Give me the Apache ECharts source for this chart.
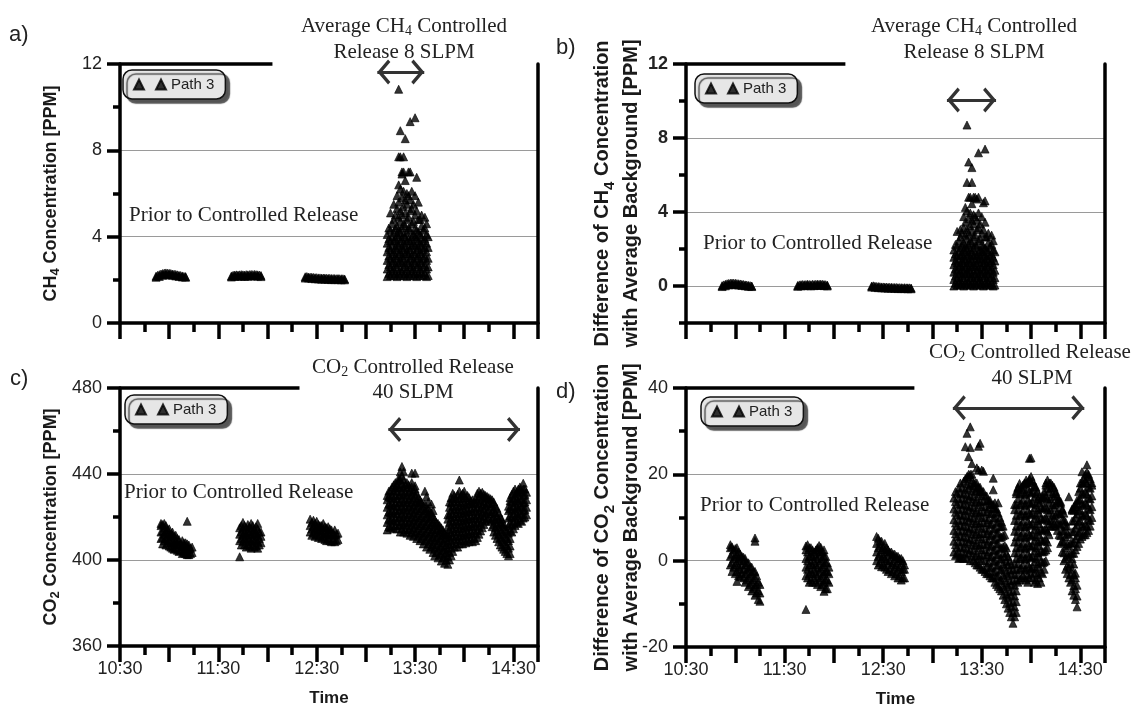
<!DOCTYPE html>
<html>
<head>
<meta charset="utf-8">
<title>Path 3 - CH4 / CO2 controlled release</title>
<script src="https://cdn.jsdelivr.net/npm/echarts/dist/echarts.min.js"></script>
<style>
  html, body { margin: 0; padding: 0; background: #fff; }
  #chart { width: 1142px; height: 709px; }
</style>
</head>
<body>
<div id="chart"></div>
<script>
// time axis, minutes since midnight (10:30 .. 14:45)
const timeMin = 630, timeMax = 885;
const timeTicks = [630, 690, 750, 810, 870];
const timeTickLabels = ['10:30', '11:30', '12:30', '13:30', '14:30'];

// y tick labels of each panel
const ch4Ticks = [0, 4, 8, 12];
const ch4DiffTicks = [0, 4, 8, 12];
const co2Ticks = [360, 400, 440, 480];
const co2DiffTicks = [-20, 0, 20, 40];

// every column: [time, [values read at that minute]]
// a) CH4 concentration
const ch4Prior = [
  [652,[2.17,2.12]],[653,[2.21]],[654,[2.24,2.16]],[655,[2.27]],[656,[2.29,2.21]],[657,[2.31]],[658,[2.32,2.24]],
  [659,[2.31]],[660,[2.3,2.23]],[661,[2.29]],[662,[2.27,2.21]],[663,[2.26]],[664,[2.25,2.18]],[665,[2.23]],
  [666,[2.21,2.16]],[667,[2.2]],[668,[2.18,2.13]],[669,[2.16]],[670,[2.15,2.12]],
  [698,[2.18,2.13]],[699,[2.21]],[700,[2.22,2.16]],[701,[2.23]],[702,[2.22,2.17]],[703,[2.23]],[704,[2.24,2.17]],
  [705,[2.23]],[706,[2.22,2.16]],[707,[2.24]],[708,[2.23,2.17]],[709,[2.24]],[710,[2.25,2.18]],[711,[2.24]],
  [712,[2.25,2.18]],[713,[2.24]],[714,[2.23,2.17]],[715,[2.22]],[716,[2.2,2.15]],
  [743,[2.14,2.08]],[744,[2.15]],[745,[2.13,2.08]],[746,[2.12]],[747,[2.12,2.06]],[748,[2.11]],[749,[2.1,2.05]],
  [750,[2.1]],[751,[2.09,2.04]],[752,[2.09]],[753,[2.08,2.03]],[754,[2.08]],[755,[2.08,2.03]],[756,[2.07]],
  [757,[2.07,2.02]],[758,[2.07]],[759,[2.06,2.01]],[760,[2.06]],[761,[2.06,2.01]],[762,[2.05]],[763,[2.06,2.01]],
  [764,[2.05]],[765,[2.05,2.0]],[766,[2.05]],[767,[2.04,2.0]]
];
const ch4Release = [
  [793,[2.15,2.5,2.9,3.3,3.7,4.1]],
  [794,[2.3,2.7,3.1,3.5,3.9,4.4]],
  [795,[2.2,2.6,3.0,3.4,3.8,4.3,5.1]],
  [796,[2.4,2.8,3.2,3.6,4.0,4.6]],
  [797,[2.2,2.5,2.9,3.3,3.8,4.2,4.8,5.5]],
  [798,[2.3,2.7,3.1,3.5,3.9,4.4,5.0]],
  [799,[2.15,2.6,3.0,3.4,3.7,4.1,4.5,5.3,5.9]],
  [800,[2.3,2.8,3.2,3.6,4.0,4.3,4.9,5.6,6.4,7.7,10.83]],
  [801,[2.2,2.5,2.9,3.3,3.8,4.2,4.7,5.2,6.2,7.7,8.91]],
  [802,[2.4,2.8,3.1,3.5,3.9,4.4,5.0,5.8,6.9,7.0]],
  [803,[2.2,2.6,3.0,3.4,3.7,4.1,4.6,5.4,6.1,7.0,7.7]],
  [804,[2.3,2.7,3.2,3.6,4.0,4.5,5.1,5.7,6.6,8.54]],
  [805,[2.15,2.5,2.9,3.3,3.8,4.2,4.8,5.5,6.0]],
  [806,[2.3,2.8,3.2,3.5,3.9,4.4,4.9,5.9,7.0]],
  [807,[2.2,2.6,3.0,3.4,3.8,4.3,5.2,5.7,7.0,9.33]],
  [808,[2.4,2.7,3.1,3.6,4.0,4.6,5.3,6.1]],
  [809,[2.2,2.5,2.9,3.3,3.7,4.1,4.7,5.5]],
  [810,[2.3,2.8,3.2,3.6,4.0,4.4,5.0,5.9,9.51]],
  [811,[2.15,2.6,3.0,3.4,3.9,4.3,5.2,6.75]],
  [812,[2.3,2.7,3.1,3.5,3.8,4.2,4.8,5.6]],
  [813,[2.2,2.5,2.9,3.3,3.7,4.1,4.8]],
  [814,[2.35,2.8,3.2,3.6,4.0,4.5,5.0]],
  [815,[2.2,2.6,3.0,3.4,3.8,4.3]],
  [816,[2.3,2.7,3.1,3.5,3.9,4.4,4.9]],
  [817,[2.15,2.5,2.9,3.3,3.7,4.1,4.6]],
  [818,[2.2,2.6,3.0,3.5,4.0]]
];

// b) CH4 difference with average background
const ch4DiffPrior = [
  [652,[0.02,-0.03]],[653,[0.06]],[654,[0.09,0.01]],[655,[0.12]],[656,[0.14,0.06]],[657,[0.15]],[658,[0.16,0.08]],
  [659,[0.15]],[660,[0.15,0.07]],[661,[0.13]],[662,[0.12,0.05]],[663,[0.11]],[664,[0.09,0.03]],[665,[0.08]],
  [666,[0.06,0.01]],[667,[0.05]],[668,[0.03,-0.02]],[669,[0.02]],[670,[0.0,-0.03]],
  [698,[0.03,-0.02]],[699,[0.06]],[700,[0.07,0.01]],[701,[0.08]],[702,[0.07,0.02]],[703,[0.08]],[704,[0.09,0.02]],
  [705,[0.08]],[706,[0.07,0.01]],[707,[0.09]],[708,[0.08,0.02]],[709,[0.09]],[710,[0.1,0.03]],[711,[0.09]],
  [712,[0.1,0.03]],[713,[0.09]],[714,[0.08,0.02]],[715,[0.07]],[716,[0.05,0.0]],
  [743,[0.0,-0.06]],[744,[0.01]],[745,[-0.01,-0.07]],[746,[-0.03]],[747,[-0.03,-0.09]],[748,[-0.04]],[749,[-0.05,-0.1]],
  [750,[-0.05]],[751,[-0.06,-0.11]],[752,[-0.06]],[753,[-0.07,-0.12]],[754,[-0.07]],[755,[-0.07,-0.12]],[756,[-0.08]],
  [757,[-0.08,-0.13]],[758,[-0.08]],[759,[-0.09,-0.14]],[760,[-0.09]],[761,[-0.09,-0.14]],[762,[-0.1]],
  [763,[-0.09,-0.14]],[764,[-0.1]],[765,[-0.1,-0.15]],[766,[-0.1]],[767,[-0.11,-0.15]]
];
const ch4DiffRelease = [
  [793,[0.0,0.35,0.75,1.15,1.55,1.95]],
  [794,[0.15,0.55,0.95,1.35,1.75,2.25]],
  [795,[0.05,0.45,0.85,1.25,1.65,2.15,2.95]],
  [796,[0.25,0.65,1.05,1.45,1.85,2.45]],
  [797,[0.05,0.35,0.75,1.15,1.65,2.05,2.65,3.05]],
  [798,[0.15,0.55,0.95,1.35,1.75,2.25,2.85]],
  [799,[0.0,0.45,0.85,1.25,1.55,1.95,2.35,3.15,3.75]],
  [800,[0.15,0.65,1.05,1.45,1.85,2.15,2.75,3.45,4.25]],
  [801,[0.05,0.35,0.75,1.15,1.65,2.05,2.55,3.05,4.05,5.6,8.7]],
  [802,[0.25,0.65,0.95,1.35,1.75,2.25,2.85,3.65,4.8,6.7]],
  [803,[0.05,0.45,0.85,1.25,1.55,1.95,2.45,3.25,3.95,4.8]],
  [804,[0.15,0.55,1.05,1.45,1.85,2.35,2.95,3.55,4.45,5.6,6.4]],
  [805,[0.0,0.35,0.75,1.15,1.65,2.05,2.65,3.35,3.85,4.8]],
  [806,[0.15,0.65,1.05,1.35,1.75,2.25,2.75,3.75,4.8]],
  [807,[0.05,0.45,0.85,1.25,1.65,2.15,3.05,3.55,4.7]],
  [808,[0.25,0.55,0.95,1.45,1.85,2.45,3.15,3.95,4.8,7.2]],
  [809,[0.05,0.35,0.75,1.15,1.55,1.95,2.55,3.35]],
  [810,[0.15,0.65,1.05,1.45,1.85,2.25,2.85,3.75]],
  [811,[0.0,0.45,0.85,1.25,1.75,2.15,3.05,4.5]],
  [812,[0.15,0.55,0.95,1.35,1.65,2.05,2.65,3.45,4.6,7.4]],
  [813,[0.05,0.35,0.75,1.15,1.55,1.95,2.65]],
  [814,[0.2,0.65,1.05,1.45,1.85,2.35,2.85]],
  [815,[0.05,0.45,0.85,1.25,1.65,2.15]],
  [816,[0.15,0.55,0.95,1.35,1.75,2.25,2.75]],
  [817,[0.0,0.35,0.75,1.15,1.55,1.95,2.45]],
  [818,[0.05,0.45,0.85,1.35,1.85]]
];

// c) CO2 concentration
const co2Prior = [
  [655,[410,413,416,417]],[656,[407.5,410.5,413.5,416.5]],[657,[409,412,415,417]],[658,[407,410,413,416]],
  [659,[408,411,414]],[660,[406.5,409.5,412.5,414.5]],[661,[406,409,412]],[662,[405.5,408.5,411.5,413]],
  [663,[405,408,411]],[664,[405.5,408.5,411.5]],[665,[404.5,407.5,410]],[666,[404,407,409.5]],[667,[404.5,407.5]],
  [668,[403,406,409]],[669,[403.5,406.5,408]],[670,[403,405.5,408]],[671,[402.5,405,407.5,418]],
  [672,[402.5,405,407]],[673,[403,405.5]],[674,[403.5,406]],
  [703,[401.5,409,412,415]],[704,[407,410,413,416]],[705,[408.5,411.5,414.5,417.5]],[706,[407,410,413,416]],
  [707,[406,409,412,415]],[708,[407.5,410.5,413.5,416.5]],[709,[406.5,409.5,412.5,415.5]],
  [710,[405.5,408.5,411.5,414.5,417]],[711,[407,410,413,416]],[712,[406,409,412,414]],
  [713,[406.5,409.5,412.5,415.5]],[714,[405.5,408.5,411.5,414.5,417]],[715,[407,410,413]],[716,[408,411,413]],
  [746,[413,416,419]],[747,[411.5,414.5,417.5]],[748,[412.5,415.5,418.5]],[749,[411,414,417]],[750,[412,415,418]],
  [751,[410.5,413.5,416.5]],[752,[411.5,414.5,416]],[753,[410,413,416]],[754,[411,414,417]],
  [755,[409.5,412.5,415.5]],[756,[409,412,415]],[757,[410,413,415.5]],[758,[409,412,414.5]],
  [759,[408.5,411.5,414]],[760,[409.5,412.5]],[761,[408.5,411.5,414]],[762,[409,412]],[763,[409.5,412.5]]
];
const co2Release = [
  [793,[414,417.5,421,424.5,428,430]],[794,[415.5,419,422.5,426,429.5,432]],
  [795,[415,418.5,422,425.5,429,432.5]],[796,[416,419.5,423,426.5,430,434]],
  [797,[414.5,418,421.5,425,428.5,432,435]],[798,[416,419.5,423,426.5,430,433.5,436]],
  [799,[414.5,418,421.5,425,428.5,432,435]],[800,[416,419.5,423,426.5,430,433.5,437,438]],
  [801,[413,416.5,420,423.5,427,430.5,434,437.5,441]],[802,[414.5,418,421.5,425,428.5,432,435.5,439,443.5]],
  [803,[413,416.5,420,423.5,427,430.5,434,437.5,441]],[804,[414,417.5,421,424.5,428,431.5,435]],
  [805,[412.5,416,419.5,423,426.5,430,433.5,436]],[806,[414,417.5,421,424.5,428,431.5,435]],
  [807,[411.5,415,418.5,422,425.5,429,432.5]],[808,[413,416.5,420,423.5,427,430.5,434,436,440.4]],
  [809,[411,414.5,418,421.5,425,428.5,432]],[810,[412.5,416,419.5,423,426.5,430,433,434.5,440.4]],
  [811,[410,413.5,417,420.5,424,427.5,431]],[812,[411.5,415,418.5,422,425.5,429]],
  [813,[409,412.5,416,419.5,423,426.5,428]],[814,[410,413.5,417,420.5,424,427]],
  [815,[407.5,411,414.5,418,421.5,425]],[816,[409,412.5,416,419.5,423,426,432]],
  [817,[406,409.5,413,416.5,420,423.5,429.5]],[818,[407.5,411,414.5,418,421.5,424,427]],
  [819,[405,408.5,412,415.5,419,422.5]],[820,[406,409.5,413,416.5,420,422,426]],
  [821,[403.5,407,410.5,414,417.5,420,423]],[822,[402,405.5,409,412.5,416,419]],
  [823,[403.5,407,410.5,414,417.5]],[824,[401,404.5,408,411.5,415,417]],[825,[402.5,406,409.5,413,416]],
  [826,[399.5,403,406.5,410,413.5,415]],[827,[401,404.5,408,411.5,414]],[828,[398.5,402,405.5,409,412.5]],
  [829,[400,403.5,407,410.5,412]],[830,[398,401.5,405,408.5,412,415.5,419,421]],
  [831,[400,403.5,407,410.5,414,417.5,421,424.5,427]],[832,[402,405.5,409,412.5,416,419.5,423,426.5,429]],
  [833,[404,407.5,411,414.5,418,421.5,425,428.5,431]],[834,[406,409.5,413,416.5,420,423.5,427,430]],
  [835,[407.5,411,414.5,418,421.5,425,428.5]],[836,[406,409.5,413,416.5,420,423.5,427,430.5]],
  [837,[407.5,411,414.5,418,421.5,425,428.5,432,437.2]],[838,[409,412.5,416,419.5,423,426.5,430]],
  [839,[407.5,411,414.5,418,421.5,425,428.5,431]],[840,[409,412.5,416,419.5,423,426.5,430,432]],
  [841,[408,411.5,415,418.5,422,425.5,429]],[842,[409.5,413,416.5,420,423.5,427,430]],
  [843,[408.5,412,415.5,419,422.5,426,429]],[844,[410,413.5,417,420.5,424,427.5]],
  [845,[408.5,412,415.5,419,422.5,426,428]],[846,[410,413.5,417,420.5,424,427]],
  [847,[409,412.5,416,419.5,423,426.5,428.5]],[848,[410.5,414,417.5,421,424.5,428,431]],
  [849,[412,415.5,419,422.5,426,429.5,432]],[850,[413.5,417,420.5,424,427.5,431]],
  [851,[415,418.5,422,425.5,429,431.5]],[852,[416.5,420,423.5,427,430.5]],[853,[418,421.5,425,428.5,430]],
  [854,[419,422.5,426,429.5]],[855,[419.5,423,426.5,429]],[856,[418,421.5,425,428.5]],
  [857,[415.5,419,422.5,426,428]],[858,[413,416.5,420,423.5,427]],[859,[411.5,415,418.5,422,425]],
  [860,[410,413.5,417,420.5,424]],[861,[408.5,412,415.5,419,422]],[862,[407,410.5,414,417.5,420]],
  [863,[406,409.5,413,416.5,419]],[864,[405,408.5,412,415.5,417]],[865,[404,407.5,411,414.5]],
  [866,[403,406.5,410,413.5]],[867,[402,405.5,409,412.5,416,419.5,423,425]],
  [868,[403,406.5,410,413.5,417,420.5,424,427.5,429]],[869,[413,416.5,420,423.5,427,430.5]],
  [870,[414.5,418,421.5,425,428.5,432]],[871,[416,419.5,423,426.5,430,433]],[872,[417.5,421,424.5,428,431.5]],
  [873,[417,420.5,424,427.5,431,433]],[874,[418.5,422,425.5,429,432.5,434]],[875,[418,421.5,425,428.5,432]],
  [876,[419.5,423,426.5,430,433,435.7]],[877,[420,423.5,427,430.5,433]],[878,[421,424.5,428,431.5]]
];

// d) CO2 difference with average background
const co2DiffPrior = [
  [657,[-1,1,3,3.7]],[658,[-2.5,-0.5,1.5,3.2]],[659,[-1.5,0.5,2.5]],[660,[-3,-1,1,2.8]],[661,[-4.8,-2.5,-0.5,1.5,3]],
  [662,[-3.5,-1.5,0.5,2]],[663,[-3.7,-2,0,1.5]],[664,[-3,-1,1]],[665,[-4,-2,0,0.8]],[666,[-5,-3,-1,0.5]],
  [667,[-4.5,-2.5,-0.5]],[668,[-6,-4,-2,-0.5]],[669,[-5.5,-3.5,-1.5]],[670,[-7,-5,-3,-1.5]],[671,[-6.5,-4.5,-2.5]],
  [672,[-8,-6,-4,-2.5,4.5,5.25]],[673,[-7.5,-5.5,-3.5]],[674,[-9,-7,-5]],[675,[-9.4,-7.5,-5.5]],
  [703,[-11.3,-3.5,-1.5,0.5,2.5,3.4]],[704,[-4,-2,0,2,3.7]],[705,[-5,-3,-1,1,3]],[706,[-4.5,-2.5,-0.5,1.5,3]],
  [707,[-5,-3,-1,1,2.5]],[708,[-4,-2,0,2]],[709,[-5,-3,-1,1,2.5]],[710,[-5.5,-3.5,-1.5,0.5,2.5,3]],
  [711,[-4.5,-2.5,-0.5,1.5,3.5]],[712,[-6,-4,-2,0,2,3.1]],[713,[-5.5,-3.5,-1.5,0.5,2]],
  [714,[-7.1,-5,-3,-1,1,2.5]],[715,[-6.5,-4.5,-2.5,-0.5,1]],[716,[-6.5,-4.5,-2.5,-0.5]],[717,[-5,-3,-1.5]],
  [746,[0,2,4,5.6]],[747,[-1,1,3,5.2]],[748,[-0.5,1.5,3.5,4.5]],[749,[-1.4,0.5,2.5,4.5]],[750,[-1,1,3]],
  [751,[-1.5,0.5,2.5,4]],[752,[-2,0,2,3]],[753,[-2.5,-0.5,1.5,2.5]],[754,[-2,0,2]],[755,[-3,-1,1,2]],
  [756,[-2.5,-0.5,1.5]],[757,[-3.5,-1.5,0.5,1.5]],[758,[-3,-1,1]],[759,[-4,-2,0,1]],[760,[-3.5,-1.5,0.5]],
  [761,[-4.5,-2.5,-0.5,0.5]],[762,[-4,-2,0]],[763,[-4,-2,-1]]
];
const co2DiffRelease = [
  [793,[2,4.5,7,9.5,12,14.5]],[794,[1.2,3.7,6.2,8.7,11.2,13.7,16]],[795,[1.5,3,5.5,8,10.5,13,15.5]],
  [796,[0.5,1.8,4.3,6.8,9.3,11.8,14.3,16.8]],[797,[0.7,3.2,5.7,8.2,10.7,13.2,15.7,18]],
  [798,[0.7,2,4.5,7,9.5,12,14.5,17]],[799,[0.5,3,5.5,8,10.5,13,15.5,18.4]],
  [800,[1.5,4,6.5,9,11.5,14,16.5,19,26.4]],[801,[0.5,2.8,5.3,7.8,10.3,12.8,15.3,17.8,19.5,29.5]],
  [802,[1.8,4.3,6.8,9.3,11.8,14.3,16.8,19.3,20,24.1]],[803,[0,2.5,5,7.5,10,12.5,15,17.5,20,26.2,31]],
  [804,[1.2,3.7,6.2,8.7,11.2,13.7,16.2,18.7,20,22.5]],[805,[0,2.3,4.8,7.3,9.8,12.3,14.8,17.3,18]],
  [806,[-0.5,1,3.5,6,8.5,11,13.5,16,18]],[807,[-1,1.7,4.2,6.7,9.2,11.7,14.2,16.7,18,21.5]],
  [808,[-1,0.5,3,5.5,8,10.5,13,15.5,17,21,26.5]],[809,[-1.5,1.2,3.7,6.2,8.7,11.2,13.7,16.2,17,27.2]],
  [810,[-2,0,2.5,5,7.5,10,12.5,15,16,21]],[811,[-2,1.3,3.8,6.3,8.8,11.3,13.8,16,20.7]],
  [812,[-2.5,0,2.5,5,7.5,10,12.5,15]],[813,[-3,-1.2,1.3,3.8,6.3,8.8,11.3,13.8,15]],
  [814,[-3,-0.5,2,4.5,7,9.5,12,14]],[815,[-3.5,-1.7,0.8,3.3,5.8,8.3,10.8,13.3,14]],
  [816,[-4,-1.5,1,3.5,6,8.5,11,13]],[817,[-4,-2.7,-0.2,2.3,4.8,7.3,9.8,12.3,13,16.4,19.1]],
  [818,[-5,-2.5,0,2.5,5,7.5,10,12,13.4]],[819,[-5.5,-3.7,-1.2,1.3,3.8,6.3,8.8,11.3,12]],
  [820,[-6,-3.5,-1,1.5,4,6.5,9,11,13.4]],[821,[-6.5,-4.7,-2.2,0.3,2.8,5.3,7.8,10]],
  [822,[-7,-4.5,-2,0.5,3,5.5,8,9]],[823,[-8,-5.7,-3.2,-0.7,1.8,3.2,5.8,8]],
  [824,[-9,-6.5,-4,-1.5,1,3.5,6]],[825,[-10,-7.7,-5.2,-2.7,-0.2,1.7,3]],[826,[-11,-8.5,-6,-3.5,-1,1]],
  [827,[-12,-9.7,-7.2,-4.7,-2.2,0]],[828,[-13,-10.5,-8,-5.5,-3,-1]],[829,[-14.5,-12,-9.5,-7,-4.5,-2]],
  [830,[-13,-10.7,-8.2,-5.7,-3.2,-0.7,1.8,4.3,6.8,9.3,11.8,13]],
  [831,[-12,-9.5,-7,-4.5,-2,0.5,3,5.5,8,10.5,13,15.5,16]],
  [832,[-5,-3.2,-0.7,1.8,4.3,6.8,9.3,11.8,14.3,16.8,17]],[833,[-4.5,-2,0.5,3,5.5,8,10.5,13,15.5,17.9]],
  [834,[-4,-1.7,0.8,3.3,5.8,8.3,10.8,13.3,15.8,17]],[835,[-3.5,-1,1.5,4,6.5,9,11.5,14,16.5,17.5]],
  [836,[-4,-2.2,0.3,2.8,5.3,7.8,10.3,12.8,15.3,17.8,18]],[837,[-4.5,-2,0.5,3,5.5,8,10.5,13,15.5,18,18.7]],
  [838,[-5,-3.3,-0.8,1.7,4.2,6.7,9.2,11.7,14.2,16.7,18]],[839,[-4,-1.5,1,3.5,6,8.5,11,13.5,16,18.5,19,23.7]],
  [840,[-3,-1.8,0.7,3.2,5.7,8.2,10.7,13.2,15.7,18.2,19.5,23.8]],[841,[-4,-1.5,1,3.5,6,8.5,11,13.5,16,18.5]],
  [842,[-5,-2.8,-0.3,2.2,4.7,7.2,9.7,12.2,14.7,17.2,17.5]],[843,[-4.5,-2,0.5,3,5.5,8,10.5,13,15.5,17]],
  [844,[-5.3,-3.2,-0.7,1.8,4.3,6.8,9.3,11.8,14.3,16]],[845,[-4,-1.5,1,3.5,6,8.5,11,13.5,15]],
  [846,[-5,-2.7,-0.2,2.3,4.8,7.3,9.8,12.3,14]],[847,[-3,-0.5,2,4.5,7,9.5,12,14.5,15]],
  [848,[-2,-0.3,2.2,4.7,7.2,9.7,12.2,14.7,16]],[849,[0,2.5,5,7.5,10,12.5,15,17.5,18]],
  [850,[3,4.3,6.8,9.3,11.8,14.3,16.8,18.7]],[851,[6,8.5,11,13.5,16,18]],[852,[8,9.3,11.8,14.3,16.8,18]],
  [853,[8,10.5,13,15.5,17.5]],[854,[8.5,9.8,12.3,14.8,17]],[855,[8,10.5,13,15.5,16]],
  [856,[7,8.8,11.3,13.8,15]],[857,[6,8.5,11,13.5,14]],[858,[4,5.8,8.3,10.8,13.3,13.7]],
  [859,[2,4.5,7,9.5,11.7,12]],[860,[0,1.8,4.3,6.8,9.3,11]],[861,[-2,0.5,3,5.5,8,9]],
  [862,[-3,-1.2,1.3,3.8,6.3,8]],[863,[-4,-1.5,1,3.5,6,14.8]],[864,[-5,-3.2,-0.7,1.8,4]],
  [865,[-7,-4.5,-2,0.5,1.7,4.2,6.7,9.2,11.7,12]],[866,[-8,-5.8,-3.3,-0.8,1.7,4.2,6.7,9.2,11.7,12.5]],
  [867,[-9,-6.5,-4,-2.9,2.5,5,7.5,10,12.5,13]],[868,[-10.7,-8.2,-5.7,3.3,5.8,8.3,10.8,13.3,14]],
  [869,[4,6.5,9,11.5,14,16]],[870,[5,6.8,9.3,11.8,14.3,16.8,18]],[871,[5.6,8.1,10.6,13.1,15.6,18.1,20.6]],
  [872,[6,7.8,10.3,12.8,15.3,17.8,19]],[873,[6,8.5,11,13.5,16,18.5,20]],
  [874,[6.5,8,10.5,13,15.5,18,20.5,22.2]],[875,[7,9.5,12,14.5,17,19.5,20]],[876,[8,9.3,11.8,14.3,16.8,19]],
  [877,[10,12.5,15,17.5,18]]
];

const cols = list => list.flatMap(([t, vs]) => vs.map(v => [t, v]));

const sans = '"Liberation Sans", Arial, sans-serif';
const serif = '"Liberation Serif", "Times New Roman", serif';
const chevron = 'path://M12,0 L24,11 L21.6,13.4 L12,4.6 L2.4,13.4 L0,11 Z';
const legendIcon = 'path://M0,10 L5,0 L10,10 Z M22,10 L27,0 L32,10 Z';

const fmtTime = v => {
  const i = timeTicks.indexOf(v);
  return i >= 0 ? timeTickLabels[i] : '';
};

const nameRich = (fs, lh) => ({
  b: { fontFamily: sans, fontSize: fs, fontWeight: 'bold', color: '#1a1a1a', lineHeight: lh },
  s: { fontFamily: sans, fontSize: fs - 5, fontWeight: 'bold', color: '#1a1a1a', lineHeight: lh - 8, verticalAlign: 'bottom' }
});

const panels = [
  { grid: { left: 120, top: 64, width: 418, height: 259 }, min: 0, max: 12, minor: 2, ticks: ch4Ticks,
    bold: false, name: '{b|CH}{s|4}{b| Concentration [PPM]}', nameGap: 58, fs: 18, lh: 22, showMin: false,
    time: false, data: cols(ch4Prior).concat(cols(ch4Release)), topEnd: 723, arrow: [787, 815.6, 11.63],
    legend: [123, 70] },
  { grid: { left: 686, top: 64, width: 419, height: 259 }, min: -2, max: 12, minor: 2, ticks: ch4DiffTicks,
    bold: true, name: '{b|Difference of CH}{s|4}{b| Concentration}\n{b|with Average Background [PPM]}', nameGap: 40, fs: 20, lh: 29, showMin: true,
    time: false, data: cols(ch4DiffPrior).concat(cols(ch4DiffRelease)), topEnd: 727, arrow: [788.8, 818.7, 10.05],
    legend: [695, 74] },
  { grid: { left: 120, top: 388, width: 418, height: 258 }, min: 360, max: 480, minor: 20, ticks: co2Ticks,
    bold: false, name: '{b|CO}{s|2}{b| Concentration [PPM]}', nameGap: 58, fs: 18, lh: 22, showMin: false,
    time: true, data: cols(co2Prior).concat(cols(co2Release)), topEnd: 739.5, arrow: [793.7, 874, 460.7],
    legend: [125, 395] },
  { grid: { left: 686, top: 388, width: 419, height: 259 }, min: -20, max: 40, minor: 10, ticks: co2DiffTicks,
    bold: false, name: '{b|Difference of CO}{s|2}{b| Concentration}\n{b|with Average Background [PPM]}', nameGap: 40, fs: 20, lh: 29, showMin: false,
    time: true, data: cols(co2DiffPrior).concat(cols(co2DiffRelease)), topEnd: 769, arrow: [792.4, 872.4, 35.4],
    legend: [701, 397] }
];

const grid = [], xAxis = [], yAxis = [], series = [], legend = [];
const thick = { color: '#000', width: 3.5 };

panels.forEach((p, i) => {
  grid.push(Object.assign({ containLabel: false, outerBoundsMode: 'none' }, p.grid));

  // minor time ticks + axis line
  xAxis.push({
    type: 'value', gridIndex: i, position: 'bottom', min: timeMin, max: timeMax, interval: 15,
    axisLine: { show: true, onZero: false, lineStyle: thick },
    axisTick: { show: true, length: 9, lineStyle: thick },
    axisLabel: { show: false }, splitLine: { show: false }
  });
  // major time ticks + labels
  xAxis.push({
    type: 'value', gridIndex: i, position: 'bottom', min: timeMin, max: timeMax, interval: 30,
    axisLine: { show: false, onZero: false },
    axisTick: { show: true, length: 16, lineStyle: thick },
    axisLabel: { show: p.time, margin: 14, fontSize: 18, fontFamily: sans, color: '#222', formatter: fmtTime },
    splitLine: { show: false },
    name: p.time ? 'Time' : '', nameLocation: 'middle', nameGap: 44, nameMoveOverlap: false,
    nameTextStyle: { fontSize: 17, fontWeight: 'bold', fontFamily: sans, color: '#1a1a1a' }
  });

  // minor value ticks + axis line
  yAxis.push({
    type: 'value', gridIndex: i, position: 'left', min: p.min, max: p.max, interval: p.minor,
    axisLine: { show: true, onZero: false, lineStyle: thick },
    axisTick: { show: true, length: 7, lineStyle: thick },
    axisLabel: { show: false }, splitLine: { show: false }
  });
  // major value ticks + labels + grid lines
  yAxis.push({
    type: 'value', gridIndex: i, position: 'left', min: p.min, max: p.max,
    axisLine: { show: false, onZero: false },
    axisTick: { show: true, length: 13, customValues: p.ticks, lineStyle: thick },
    axisLabel: { show: true, customValues: p.ticks, margin: 18, fontSize: 18, fontFamily: sans, color: '#222',
      fontWeight: p.bold ? 'bold' : 'normal' },
    splitLine: { show: true, showMinLine: p.showMin, showMaxLine: false, lineStyle: { color: '#9a9a9a', width: 1.2 } },
    name: p.name, nameLocation: 'middle', nameGap: p.nameGap, nameRotate: 90, nameMoveOverlap: false,
    nameTextStyle: { rich: nameRich(p.fs, p.lh), align: 'center' }
  });
  // right frame line
  yAxis.push({
    type: 'value', gridIndex: i, position: 'right', min: p.min, max: p.max,
    axisLine: { show: true, onZero: false, lineStyle: thick },
    axisTick: { show: false }, axisLabel: { show: false }, splitLine: { show: false }
  });

  const arrowEnd = t => ({ coord: [t, p.arrow[2]], symbol: chevron, symbolSize: [25, 13], symbolOffset: [0, 6.5] });
  series.push({
    type: 'scatter', name: 'Path 3', xAxisIndex: 2 * i, yAxisIndex: 3 * i,
    data: p.data, symbol: 'triangle', symbolSize: 8,
    itemStyle: { color: '#000', borderColor: '#000', borderWidth: 0.8 },
    clip: false, silent: true, z: 3,
    markLine: {
      silent: true, symbol: 'none', label: { show: false }, emphasis: { disabled: true },
      data: [
        [{ coord: [timeMin, p.max], lineStyle: { color: '#000', width: 3.5, type: 'solid' } }, { coord: [p.topEnd, p.max] }],
        [Object.assign(arrowEnd(p.arrow[0]), { lineStyle: { color: '#333', width: 3, type: 'solid' } }), arrowEnd(p.arrow[1])]
      ]
    }
  });

  legend.push({
    left: p.legend[0], top: p.legend[1], data: ['Path 3'], selectedMode: false,
    icon: legendIcon, itemWidth: 32, itemHeight: 10,
    textStyle: { fontFamily: sans, fontSize: 15, color: '#222' },
    backgroundColor: '#e6e6e6', borderColor: '#111', borderWidth: 1.5, borderRadius: 9,
    padding: [7, 11, 7, 10],
    shadowColor: '#555', shadowBlur: 1, shadowOffsetX: 4, shadowOffsetY: 4
  });
});

const serifRich = {
  n: { fontFamily: serif, fontSize: 21, color: '#222', lineHeight: 24 },
  s: { fontFamily: serif, fontSize: 14, color: '#222', lineHeight: 14, verticalAlign: 'bottom' }
};
const note = (x, y, text, align) => ({
  type: 'text', x: x, y: y, silent: true,
  style: { text: text, rich: serifRich, font: '21px ' + serif, fill: '#222', align: align || 'center', verticalAlign: 'middle' }
});
const tag = (x, y, text) => ({
  type: 'text', x: x, y: y, silent: true,
  style: { text: text, font: '22px ' + sans, fill: '#222', align: 'left', verticalAlign: 'middle' }
});

const graphic = [
  tag(9, 35, 'a)'), tag(556, 48, 'b)'), tag(10, 379, 'c)'), tag(556, 392, 'd)'),
  note(404, 26, '{n|Average CH}{s|4}{n| Controlled}'), note(404, 52, '{n|Release 8 SLPM}'),
  note(974, 26, '{n|Average CH}{s|4}{n| Controlled}'), note(974, 52, '{n|Release 8 SLPM}'),
  note(413, 367, '{n|CO}{s|2}{n| Controlled Release}'), note(413, 392, '{n|40 SLPM}'),
  note(1030, 352, '{n|CO}{s|2}{n| Controlled Release}'), note(1032, 378, '{n|40 SLPM}'),
  note(129, 215, '{n|Prior to Controlled Release}', 'left'),
  note(703, 243, '{n|Prior to Controlled Release}', 'left'),
  note(124, 492, '{n|Prior to Controlled Release}', 'left'),
  note(700, 505, '{n|Prior to Controlled Release}', 'left')
];

const chart = echarts.init(document.getElementById('chart'), null, { renderer: 'canvas' });
chart.setOption({
  backgroundColor: '#fff',
  animation: false,
  grid: grid,
  xAxis: xAxis,
  yAxis: yAxis,
  legend: legend,
  series: series,
  graphic: graphic
});
</script>
</body>
</html>
